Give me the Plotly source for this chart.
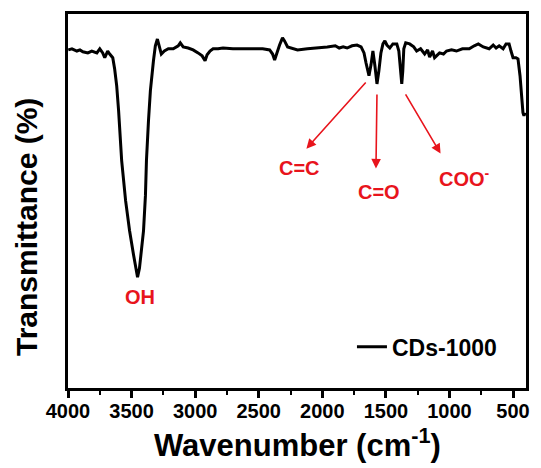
import plotly.graph_objects as go

# FTIR spectrum of CDs-1000
wavenumber = [3998, 3969, 3930, 3906, 3883, 3844, 3813, 3773, 3750, 3727, 3711, 3688, 3672, 3648,
              3633, 3617, 3602, 3578, 3547, 3516, 3484, 3469, 3453, 3438, 3422, 3406, 3391, 3383,
              3367, 3352, 3328, 3313, 3297, 3281, 3266, 3242, 3211, 3172, 3133, 3117, 3094, 3055,
              3016, 2977, 2945, 2922, 2906, 2883, 2859, 2820, 2781, 2703, 2586, 2469, 2414, 2391,
              2375, 2359, 2336, 2313, 2297, 2273, 2234, 2195, 2117, 2039, 1961, 1898, 1867, 1836,
              1805, 1766, 1727, 1695, 1672, 1656, 1633, 1617, 1602, 1586, 1570, 1555, 1539, 1523,
              1508, 1492, 1469, 1445, 1414, 1398, 1383, 1375, 1367, 1359, 1344, 1313, 1281, 1258,
              1227, 1195, 1172, 1156, 1133, 1117, 1102, 1078, 1047, 1023, 984, 945, 898, 844,
              805, 773, 734, 688, 656, 633, 609, 578, 555, 531, 516, 500, 477, 461, 445, 438,
              430, 422, 414, 406]
transmittance = [90.4, 90.7, 90.1, 90.4, 89.9, 89.6, 90.1, 89.6, 90.7, 89.6, 88.3, 90.1, 89.3, 88.3,
                 85.3, 80.8, 74.1, 60.8, 50.1, 42.1, 35.5, 32.0, 29.6, 32.0, 36.8, 42.1, 51.5, 60.8,
                 71.5, 79.5, 87.5, 91.5, 93.3, 91.5, 89.3, 90.1, 90.7, 90.7, 91.5, 92.3, 91.2, 90.9,
                 90.4, 89.6, 88.8, 87.5, 89.1, 90.1, 90.7, 90.7, 90.9, 90.7, 90.7, 90.7, 90.4, 89.3,
                 87.7, 89.6, 91.7, 93.6, 92.8, 91.2, 90.7, 90.4, 90.7, 90.9, 91.2, 91.5, 90.9, 91.2,
                 90.9, 91.5, 91.7, 91.2, 89.6, 86.9, 83.5, 86.4, 90.1, 86.1, 81.3, 84.8, 89.6, 92.0,
                 92.8, 91.7, 90.9, 92.0, 92.0, 90.1, 83.5, 81.3, 84.8, 90.7, 92.3, 92.0, 91.2, 90.1,
                 90.7, 89.3, 90.4, 88.5, 90.1, 88.3, 88.8, 89.6, 89.3, 90.1, 90.4, 90.1, 90.7, 90.7,
                 91.5, 92.0, 91.2, 90.7, 91.7, 90.9, 91.5, 90.7, 92.0, 92.0, 90.1, 88.3, 88.3, 88.0,
                 83.5, 80.3, 76.8, 73.6, 72.8, 73.6]

x_ticks = [4000, 3500, 3000, 2500, 2000, 1500, 1000, 500]

# band assignments: label text, label position, arrow tail and tip
band_labels = ["C=C", "C=O", "COO<sup>-</sup>"]
label_pos = [(2180, 58.7), (1555, 52.3), (883, 56.3)]
arrow_tail = [(1648, 82.1), (1570, 78.9), (1352, 78.9)]
arrow_tip = [(2125, 64.0), (1578, 58.7), (1070, 62.7)]
oh_label_pos = (3437, 24.3)

RED = "#e8141c"
FONT = "Liberation Sans, Arial, sans-serif"

fig = go.Figure()
fig.add_trace(go.Scatter(
    x=wavenumber, y=transmittance, mode="lines", name="CDs-1000",
    line=dict(color="black", width=3),
))

annotations = []
for (tx, ty), (hx, hy) in zip(arrow_tail, arrow_tip):
    annotations.append(dict(
        x=hx, y=hy, xref="x", yref="y", ax=tx, ay=ty, axref="x", ayref="y",
        text="", showarrow=True, arrowhead=2, arrowsize=1.2, arrowwidth=1.6,
        arrowcolor=RED,
    ))
for txt, (lx, ly) in zip(band_labels, label_pos):
    annotations.append(dict(
        x=lx, y=ly, xref="x", yref="y", text=f"<b>{txt}</b>", showarrow=False,
        font=dict(family=FONT, size=20, color=RED),
    ))
annotations.append(dict(
    x=oh_label_pos[0], y=oh_label_pos[1], xref="x", yref="y", text="<b>OH</b>",
    showarrow=False, font=dict(family=FONT, size=20, color=RED),
))
# axis titles
annotations.append(dict(
    x=0.5, y=-0.148, xref="paper", yref="paper", xanchor="center", yanchor="middle",
    text="<b>Wavenumber (cm<sup>-1</sup>)</b>", showarrow=False,
    font=dict(family=FONT, size=31, color="black"),
))
annotations.append(dict(
    x=-0.092, y=0.43, xref="paper", yref="paper", xanchor="center", yanchor="middle",
    text="<b>Transmittance (%)</b>", textangle=-90, showarrow=False,
    font=dict(family=FONT, size=30, color="black"),
))

fig.update_layout(
    width=541, height=468,
    margin=dict(l=68, r=11, t=13, b=80),
    paper_bgcolor="white", plot_bgcolor="white",
    font=dict(family=FONT, color="black"),
    showlegend=True,
    legend=dict(
        x=0.62, y=0.11, xanchor="left", yanchor="middle",
        bgcolor="rgba(0,0,0,0)", borderwidth=0,
        font=dict(family=FONT, size=23, color="black", weight="bold"),
    ),
    annotations=annotations,
)
fig.update_xaxes(
    range=[4000, 398], tickvals=x_ticks,
    ticktext=[f"<b>{v}</b>" for v in x_ticks],
    ticks="outside", ticklen=7, tickwidth=2.5, tickcolor="black",
    ticklabelstandoff=-4,
    minor=dict(ticks="outside", ticklen=4, tickwidth=2, tickcolor="black",
               dtick=250, tick0=250),
    showline=True, linewidth=3, linecolor="black", mirror=True,
    showgrid=False, zeroline=False,
    tickfont=dict(family=FONT, size=20, color="black"),
)
fig.update_yaxes(
    range=[0, 100], showticklabels=False, ticks="",
    showline=True, linewidth=3, linecolor="black", mirror=True,
    showgrid=False, zeroline=False,
)

fig.write_html("out.html")
